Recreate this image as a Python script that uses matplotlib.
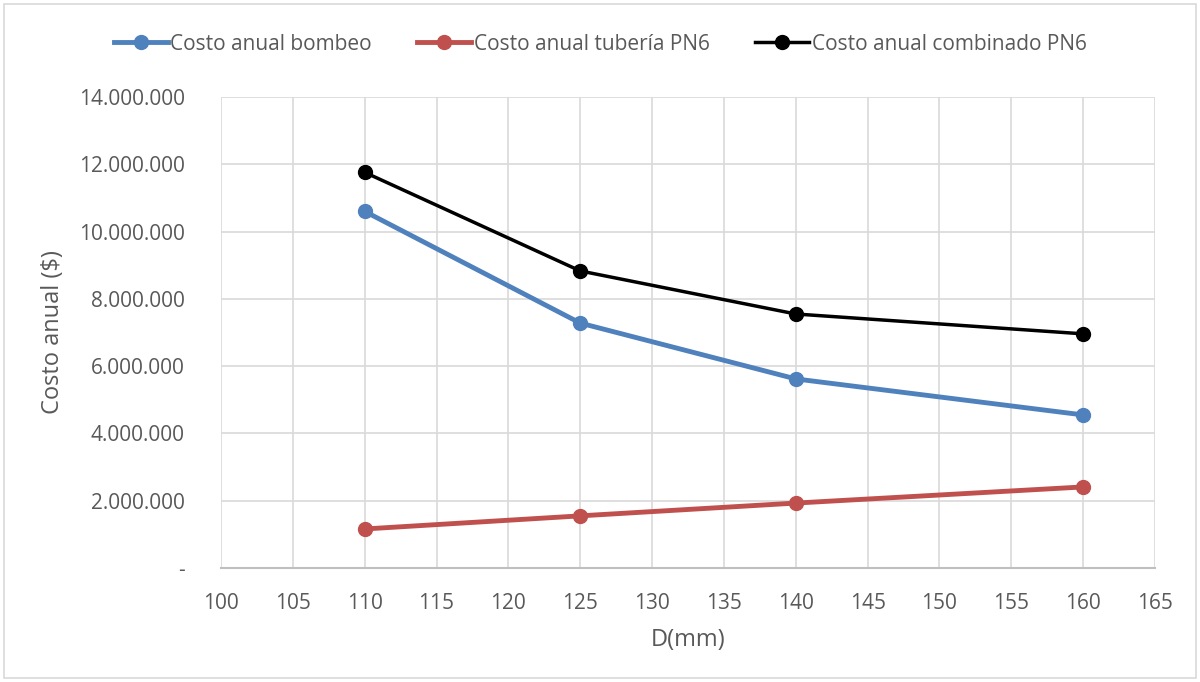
import matplotlib
matplotlib.use("Agg")
import matplotlib.pyplot as plt
from matplotlib.ticker import FuncFormatter
from matplotlib.patches import Rectangle

diametros = [110, 125, 140, 160]
costo_bombeo = [10600000, 7280000, 5620000, 4550000]
costo_tuberia = [1160000, 1550000, 1930000, 2410000]
costo_combinado = [11760000, 8830000, 7550000, 6960000]

xticks = list(range(100, 166, 5))
yticks = list(range(0, 14000001, 2000000))

plt.rcParams['font.family'] = ['Open Sans', 'DejaVu Sans']
txt = '#595959'

fig = plt.figure(figsize=(12, 6.82), dpi=100)
ax = fig.add_axes([221/1200, 1-568/682, (1155-221)/1200, (568-97)/682])

ax.plot(diametros, costo_bombeo, color='#4F81BD', lw=3.5, marker='o', ms=10, label='Costo anual bombeo', zorder=3)
ax.plot(diametros, costo_tuberia, color='#C0504D', lw=3.5, marker='o', ms=10, label='Costo anual tubería PN6', zorder=3)
ax.plot(diametros, costo_combinado, color='#000000', lw=2.5, marker='o', ms=10, label='Costo anual combinado PN6', zorder=3)

ax.set_xlim(100, 165)
ax.set_ylim(0, 14000000)
ax.set_xticks(xticks)
ax.set_yticks(yticks)

def fmt(v, pos):
    if v == 0:
        return '-'
    return f'{int(v):,}'.replace(',', '.')
ax.yaxis.set_major_formatter(FuncFormatter(fmt))

ax.grid(True, color='#D9D9D9', lw=1.2)
ax.set_axisbelow(True)
for s in ['top', 'right', 'left']:
    ax.spines[s].set_visible(False)
ax.spines['bottom'].set_color('#BFBFBF')
ax.spines['bottom'].set_linewidth(1.5)
ax.tick_params(length=0, labelsize=15, colors=txt)
ax.tick_params(axis='x', pad=18)
ax.tick_params(axis='y', pad=26)

ax.set_xlabel('D(mm)', fontsize=17, color=txt, labelpad=10)
ax.set_ylabel('Costo anual ($)', fontsize=17, color=txt, labelpad=10)

fig.legend(loc='center', bbox_to_anchor=(0.5, 1-44/682), ncol=3, frameon=False,
           fontsize=15, labelcolor=txt, handlelength=2.6, handletextpad=0.1,
           columnspacing=2.2)

fig.patches.append(Rectangle((4/1200, 4/682), 1-8/1200, 1-8/682, transform=fig.transFigure,
                             fill=False, edgecolor='#D9D9D9', lw=1.2))

fig.savefig('out.png', dpi=100)
